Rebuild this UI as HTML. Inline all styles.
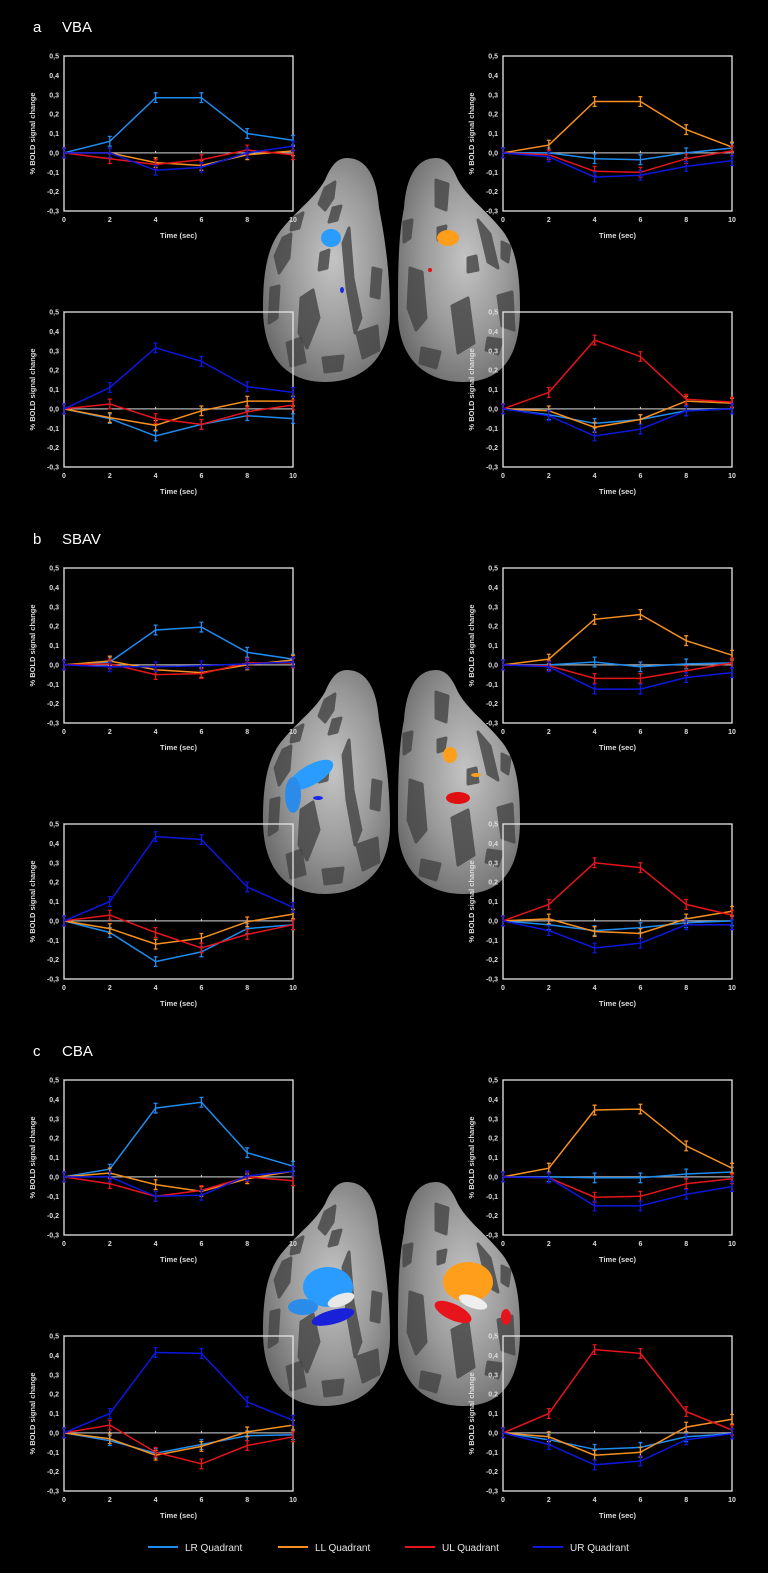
<!DOCTYPE html>
<html><head><meta charset="utf-8">
<style>
html,body{margin:0;padding:0;background:#000;}
body{width:768px;height:1573px;overflow:hidden;font-family:"Liberation Sans",sans-serif;}
svg{display:block}
</style></head>
<body>
<svg id="fig" width="768" height="1573" viewBox="0 0 768 1573" xmlns="http://www.w3.org/2000/svg">
<defs>
<radialGradient id="brainGrad" cx="0.55" cy="0.45" r="0.7">
<stop offset="0" stop-color="#c4c4c4"/><stop offset="0.5" stop-color="#999"/><stop offset="1" stop-color="#606060"/>
</radialGradient>
</defs>
<g id="brains"></g>
<g id="plots"></g>
<g id="titles"></g>
<g id="legend"></g>
</svg>
<script>
const times = [0, 2, 4, 6, 8, 10];
const yTicks = ["0,5","0,4","0,3","0,2","0,1","0,0","-0,1","-0,2","-0,3"];
const yTickValues = [0.5,0.4,0.3,0.2,0.1,0,-0.1,-0.2,-0.3];
const seriesNames = ["LR","LL","UL","UR"];
const legendLabels = ["LR Quadrant","LL Quadrant","UL Quadrant","UR Quadrant"];
const sectionLabels = ["a","b","c"];
const sectionNames = ["VBA","SBAV","CBA"];

// VBA
const aTL_LR=[0,0.06,0.285,0.285,0.10,0.065];
const aTL_LL=[0,0,-0.05,-0.065,-0.01,0.01];
const aTL_UL=[0,-0.03,-0.06,-0.035,0.015,-0.01];
const aTL_UR=[0,0,-0.09,-0.075,0,0.035];
const aTR_LR=[0,0,-0.03,-0.035,0,0.025];
const aTR_LL=[0,0.04,0.265,0.265,0.12,0.03];
const aTR_UL=[0,-0.01,-0.095,-0.1,-0.03,0.01];
const aTR_UR=[0,-0.02,-0.125,-0.115,-0.07,-0.04];
const aBL_LR=[0,-0.05,-0.14,-0.08,-0.035,-0.05];
const aBL_LL=[0,-0.045,-0.085,-0.01,0.04,0.04];
const aBL_UL=[0,0.025,-0.05,-0.08,-0.015,0.02];
const aBL_UR=[0,0.11,0.315,0.245,0.115,0.085];
const aBR_LR=[0,-0.03,-0.075,-0.055,-0.01,0];
const aBR_LL=[0,-0.01,-0.095,-0.055,0.04,0.03];
const aBR_UL=[0,0.085,0.355,0.27,0.05,0.035];
const aBR_UR=[0,-0.035,-0.14,-0.105,-0.01,0];
// SBAV
const bTL_LR=[0,0.015,0.18,0.195,0.065,0.03];
const bTL_LL=[0,0.02,-0.025,-0.04,0,0.025];
const bTL_UL=[0,0.005,-0.05,-0.045,0.01,0.01];
const bTL_UR=[0,-0.01,-0.01,-0.005,0.005,0.015];
const bTR_LR=[0,0,0.015,-0.01,0.005,0.01];
const bTR_LL=[0,0.03,0.235,0.26,0.125,0.05];
const bTR_UL=[0,-0.005,-0.07,-0.07,-0.03,0.01];
const bTR_UR=[0,-0.01,-0.125,-0.125,-0.065,-0.04];
const bBL_LR=[0,-0.06,-0.21,-0.16,-0.04,-0.02];
const bBL_LL=[0,-0.04,-0.12,-0.09,-0.005,0.035];
const bBL_UL=[0,0.03,-0.06,-0.14,-0.07,-0.02];
const bBL_UR=[0,0.1,0.435,0.42,0.175,0.07];
const bBR_LR=[0,-0.02,-0.05,-0.035,-0.01,0];
const bBR_LL=[0,0.01,-0.055,-0.065,0.01,0.05];
const bBR_UL=[0,0.085,0.3,0.275,0.085,0.03];
const bBR_UR=[0,-0.05,-0.14,-0.115,-0.02,-0.02];
// CBA
const cTL_LR=[0,0.04,0.355,0.385,0.125,0.055];
const cTL_LL=[0,0.02,-0.04,-0.075,-0.01,0.03];
const cTL_UL=[0,-0.035,-0.1,-0.07,0,-0.02];
const cTL_UR=[0,0,-0.1,-0.095,0.005,0.03];
const cTR_LR=[0,0,-0.005,-0.005,0.015,0.025];
const cTR_LL=[0,0.045,0.345,0.35,0.16,0.045];
const cTR_UL=[0,-0.005,-0.105,-0.1,-0.035,-0.01];
const cTR_UR=[0,-0.005,-0.15,-0.15,-0.09,-0.05];
const cBL_LR=[0,-0.04,-0.105,-0.06,-0.015,-0.01];
const cBL_LL=[0,-0.03,-0.115,-0.07,0.005,0.04];
const cBL_UL=[0,0.04,-0.1,-0.16,-0.065,-0.02];
const cBL_UR=[0,0.1,0.415,0.41,0.16,0.065];
const cBR_LR=[0,-0.035,-0.085,-0.075,-0.02,-0.005];
const cBR_LL=[0,-0.02,-0.115,-0.1,0.03,0.07];
const cBR_UL=[0,0.1,0.43,0.41,0.11,0.015];
const cBR_UR=[0,-0.06,-0.165,-0.145,-0.035,-0.005];

const panels = [
 {id:"a-top-left",sec:0,col:0,row:0,s:[aTL_LR,aTL_LL,aTL_UL,aTL_UR]},
 {id:"a-top-right",sec:0,col:1,row:0,s:[aTR_LR,aTR_LL,aTR_UL,aTR_UR]},
 {id:"a-bottom-left",sec:0,col:0,row:1,s:[aBL_LR,aBL_LL,aBL_UL,aBL_UR]},
 {id:"a-bottom-right",sec:0,col:1,row:1,s:[aBR_LR,aBR_LL,aBR_UL,aBR_UR]},
 {id:"b-top-left",sec:1,col:0,row:0,s:[bTL_LR,bTL_LL,bTL_UL,bTL_UR]},
 {id:"b-top-right",sec:1,col:1,row:0,s:[bTR_LR,bTR_LL,bTR_UL,bTR_UR]},
 {id:"b-bottom-left",sec:1,col:0,row:1,s:[bBL_LR,bBL_LL,bBL_UL,bBL_UR]},
 {id:"b-bottom-right",sec:1,col:1,row:1,s:[bBR_LR,bBR_LL,bBR_UL,bBR_UR]},
 {id:"c-top-left",sec:2,col:0,row:0,s:[cTL_LR,cTL_LL,cTL_UL,cTL_UR]},
 {id:"c-top-right",sec:2,col:1,row:0,s:[cTR_LR,cTR_LL,cTR_UL,cTR_UR]},
 {id:"c-bottom-left",sec:2,col:0,row:1,s:[cBL_LR,cBL_LL,cBL_UL,cBL_UR]},
 {id:"c-bottom-right",sec:2,col:1,row:1,s:[cBR_LR,cBR_LL,cBR_UL,cBR_UR]}
];
const colors = ["#1e8cf0","#f7901e","#e8141c","#0c18e0"];
const NS="http://www.w3.org/2000/svg";
function mk(tag,attrs,parent){const e=document.createElementNS(NS,tag);for(const k in attrs)e.setAttribute(k,attrs[k]);if(parent)parent.appendChild(e);return e;}

const SEC_DY=512, W=229, H=155;
function xScale(p,t){return p.x0 + t/10*W;}
function yScale(p,v){return p.y0 + (0.5-v)/0.8*H;}

// brains
const brainsG=document.getElementById('brains');
const leftPath="M84,0 C104,0 114,20 116,50 C122,80 127,115 127,155 C127,200 100,224 62,224 C24,224 0,200 0,150 C0,115 4,90 18,72 C34,52 52,40 62,22 C68,8 74,0 84,0 Z";
const rightPath="M38,0 C18,0 8,20 6,50 C0,80 0,115 0,155 C0,200 27,224 65,224 C103,224 122,200 122,150 C122,115 118,90 104,72 C88,52 70,40 60,22 C54,8 48,0 38,0 Z";
const leftPatches=["M62,30 L72,24 L70,40 L62,52 L56,46Z","M70,50 L78,48 L74,62 L66,64Z","M20,80 L28,76 L26,100 L16,115 L12,98Z","M8,130 L16,128 L14,160 L6,165Z","M38,140 L50,132 L56,160 L44,190 L36,175Z","M80,85 L86,70 L90,120 L98,160 L92,175 L84,130Z","M94,175 L114,168 L116,192 L100,200Z","M24,185 L38,180 L42,204 L28,208Z","M58,95 L66,92 L64,110 L56,112Z","M110,110 L118,112 L116,140 L108,138Z","M60,200 L80,198 L78,212 L62,214Z","M30,60 L40,55 L36,70 L28,72Z"];
const rightPatches=["M38,22 L50,26 L48,52 L38,48Z","M80,62 L92,76 L100,110 L90,104Z","M12,110 L24,114 L28,160 L18,172 L10,150Z","M54,148 L70,140 L76,185 L60,195Z","M100,138 L114,134 L116,172 L104,168Z","M24,190 L42,194 L38,210 L22,205Z","M70,100 L78,98 L80,112 L70,114Z","M104,84 L112,88 L110,104 L104,100Z","M40,70 L48,68 L46,80 L40,82Z","M90,180 L104,182 L100,196 L88,192Z","M6,64 L14,62 L12,80 L6,84Z"];
const brainTopY=[158,670,1182];
const blobs=[
 [[{x:68,y:80,rx:10,ry:9,c:"#2a9bff"},{x:79,y:132,rx:2,ry:3,c:"#1a2ae0"}],[{x:50,y:80,rx:11,ry:8,c:"#ff9e1a"},{x:32,y:112,rx:2,ry:2,c:"#e01010"}]],
 [[{x:48,y:105,rx:25,ry:10,c:"#2a9bff",r:-30},{x:30,y:125,rx:8,ry:18,c:"#2a8ce8"},{x:55,y:128,rx:5,ry:2,c:"#1a2ae0"}],[{x:52,y:85,rx:7,ry:8,c:"#ff9e1a"},{x:78,y:105,rx:5,ry:2,c:"#ff9e1a"},{x:60,y:128,rx:12,ry:6,c:"#e01010"}]],
 [[{x:65,y:105,rx:25,ry:20,c:"#2a9bff"},{x:40,y:125,rx:15,ry:8,c:"#2a8ce8"},{x:70,y:135,rx:22,ry:7,c:"#1820d8",r:-15},{x:78,y:118,rx:14,ry:6,c:"#e8e8e8",r:-20}],[{x:70,y:100,rx:25,ry:20,c:"#ff9e1a"},{x:55,y:130,rx:20,ry:8,c:"#e8141c",r:25},{x:75,y:120,rx:15,ry:6,c:"#eeeeee",r:20},{x:108,y:135,rx:5,ry:8,c:"#e8141c"}]]
];
for(let s=0;s<3;s++){
 [["left",263,leftPath,leftPatches],["right",398,rightPath,rightPatches]].forEach((b,bi)=>{
  const g=mk('g',{transform:`translate(${b[1]},${brainTopY[s]})`},brainsG);
  
  
  mk('path',{d:b[2],fill:'url(#brainGrad)'},g);
  b[3].forEach(d=>mk('path',{d:d,fill:'#444','stroke':'#444','stroke-width':'3','stroke-linejoin':'round',opacity:'0.8'},g));
  blobs[s][bi].forEach(o=>{const e=mk('ellipse',{cx:o.x,cy:o.y,rx:o.rx,ry:o.ry,fill:o.c,transform:`rotate(${o.r||0} ${o.x} ${o.y})`},g);
   });
 });
}

// titles
const titlesG=document.getElementById('titles');
const titleY=[32,544,1056];
for(let s=0;s<3;s++){
 const t1=mk('text',{x:33,y:titleY[s],fill:'#fff','font-size':'15'},titlesG);t1.textContent=sectionLabels[s];
 
 const t2=mk('text',{x:62,y:titleY[s],fill:'#fff','font-size':'15'},titlesG);t2.textContent=sectionNames[s];
 
}

// plots
const plotsG=document.getElementById('plots');
panels.forEach(p=>{
 p.x0 = p.col===0?64:503;
 p.y0 = 56 + p.sec*SEC_DY + p.row*256;
 const g=mk('g',{},plotsG);
 
 
 const box=mk('rect',{x:p.x0,y:p.y0,width:W,height:H,fill:'none',stroke:'#e6e6e6','stroke-width':'1.3'},g);
 
 const z=yScale(p,0);
 const zl=mk('line',{x1:p.x0,x2:p.x0+W,y1:z,y2:z,stroke:'#b0b0b0','stroke-width':'1.2'},g);
 
 yTickValues.forEach((v,i)=>{
  const t=mk('text',{x:p.x0-5,y:yScale(p,v)+2.5,fill:'#ddd','font-size':'7','font-weight':'bold','text-anchor':'end'},g);
  t.textContent=yTicks[i];
  
 });
 times.forEach(tm=>{
  const t=mk('text',{x:xScale(p,tm),y:p.y0+H+11,fill:'#ddd','font-size':'7','font-weight':'bold','text-anchor':'middle'},g);
  t.textContent=String(tm);
  
  mk('line',{x1:xScale(p,tm),x2:xScale(p,tm),y1:z-2,y2:z,stroke:'#ddd','stroke-width':'1'},g);
 });
 const xt=mk('text',{x:p.x0+W/2,y:p.y0+H+27,fill:'#ddd','font-size':'7.5','font-weight':'bold','text-anchor':'middle'},g);
 xt.textContent='Time (sec)';
 
 const yx=p.x0-29, yy=p.y0+H/2;
 const ytl=mk('text',{x:yx,y:yy,fill:'#ddd','font-size':'7.5','font-weight':'bold','text-anchor':'middle',transform:`rotate(-90 ${yx} ${yy})`},g);
 ytl.textContent='% BOLD signal change';
 
 p.s.forEach((vals,si)=>{
  const sg=mk('g',{},g);
  
  
  const pts=vals.map((v,i)=>`${xScale(p,times[i]).toFixed(1)},${yScale(p,v).toFixed(1)}`).join(' ');
  mk('polyline',{points:pts,fill:'none',stroke:colors[si],'stroke-width':'1.5'},sg);
  vals.forEach((v,i)=>{
   const x=xScale(p,times[i]),y1=yScale(p,v+0.025),y2=yScale(p,v-0.025);
   const eb=mk('path',{d:`M${x},${y1}V${y2}M${x-2},${y1}H${x+2}M${x-2},${y2}H${x+2}`,stroke:colors[si],'stroke-width':'1.3',fill:'none'},sg);
   
  });
 });
});

// legend
const lg=document.getElementById('legend');
const legX=[148,278,405,533];
legendLabels.forEach((l,i)=>{
 const ln=mk('line',{x1:legX[i],x2:legX[i]+30,y1:1547,y2:1547,stroke:colors[i],'stroke-width':'2'},lg);
 
 const t=mk('text',{x:legX[i]+37,y:1551,fill:'#e6e6e6','font-size':'10'},lg);
 t.textContent=l;
 
});
</script>
</body></html>
